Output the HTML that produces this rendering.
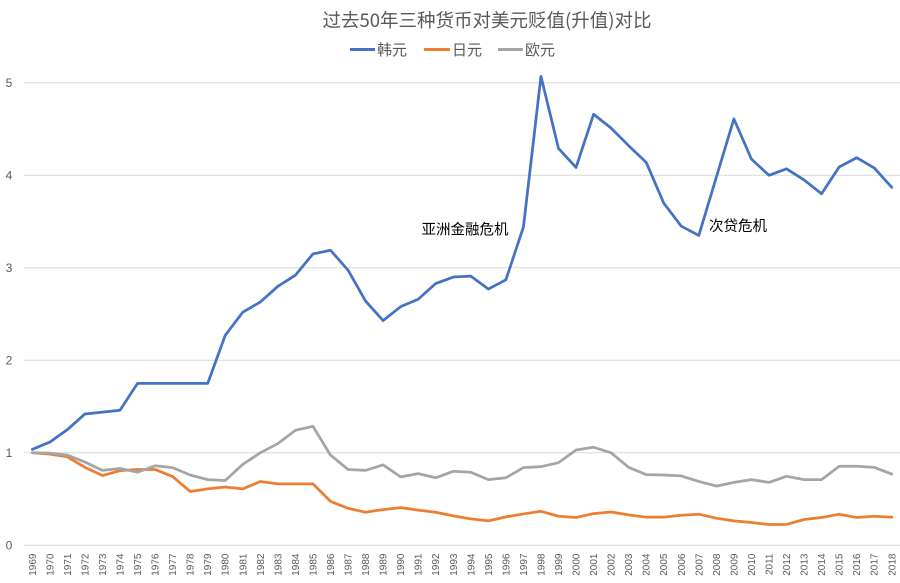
<!DOCTYPE html>
<html><head><meta charset="utf-8"><style>
html,body{margin:0;padding:0;background:#fff;}
svg{display:block;}
text{font-family:"Liberation Sans","Noto Sans CJK SC",sans-serif;}
</style></head><body>
<svg width="900" height="583" viewBox="0 0 900 583" xmlns="http://www.w3.org/2000/svg">
<rect width="900" height="583" fill="#fff"/>
<text x="487" y="27" text-anchor="middle" font-size="18.5" fill="#595959" style="font-family:'Noto Sans CJK SC',sans-serif">过去50年三种货币对美元贬值(升值)对比</text>
<g font-size="15" fill="#595959" style="font-family:'Noto Sans CJK SC',sans-serif">
<line x1="350" y1="49.5" x2="375" y2="49.5" stroke="#4472C4" stroke-width="3"/>
<text x="377" y="55">韩元</text>
<line x1="424" y1="49.5" x2="450" y2="49.5" stroke="#ED7D31" stroke-width="3"/>
<text x="452" y="55">日元</text>
<line x1="498" y1="49.5" x2="523" y2="49.5" stroke="#A5A5A5" stroke-width="3"/>
<text x="525" y="55">欧元</text>
</g>
<g stroke="#d9d9d9" stroke-width="1">
<line x1="24" y1="545.3" x2="900" y2="545.3"/>
<line x1="24" y1="452.8" x2="900" y2="452.8"/>
<line x1="24" y1="360.3" x2="900" y2="360.3"/>
<line x1="24" y1="267.8" x2="900" y2="267.8"/>
<line x1="24" y1="175.3" x2="900" y2="175.3"/>
<line x1="24" y1="82.8" x2="900" y2="82.8"/>
</g>
<g font-size="12" fill="#595959" text-anchor="middle">
<text x="9" y="549.5">0</text>
<text x="9" y="457">1</text>
<text x="9" y="364.5">2</text>
<text x="9" y="272">3</text>
<text x="9" y="179.5">4</text>
<text x="9" y="87">5</text>
</g>
<g transform="translate(32.3,545.3) scale(17.54,-92.5)" fill="none" stroke-width="2.75" stroke-linejoin="round" stroke-linecap="round">
<polyline vector-effect="non-scaling-stroke" stroke="#4472C4" points="0,1.037 1,1.116 2,1.25 3,1.42 4,1.44 5,1.46 6,1.75 7,1.75 8,1.75 9,1.75 10,1.75 11,2.27 12,2.52 13,2.63 14,2.80 15,2.92 16,3.15 17,3.19 18,2.975 19,2.64 20,2.43 21,2.58 22,2.66 23,2.83 24,2.90 25,2.91 26,2.77 27,2.87 28,3.44 29,5.07 30,4.29 31,4.085 32,4.66 33,4.51 34,4.32 35,4.14 36,3.70 37,3.45 38,3.35 39,3.98 40,4.61 41,4.175 42,4.00 43,4.07 44,3.95 45,3.80 46,4.09 47,4.19 48,4.08 49,3.87"/>
<polyline vector-effect="non-scaling-stroke" stroke="#ED7D31" points="0,1.0 1,0.986 2,0.957 3,0.843 4,0.754 5,0.807 6,0.82 7,0.82 8,0.743 9,0.582 10,0.61 11,0.63 12,0.61 13,0.69 14,0.664 15,0.664 16,0.664 17,0.475 18,0.40 19,0.357 20,0.386 21,0.407 22,0.38 23,0.357 24,0.318 25,0.286 26,0.264 27,0.307 28,0.339 29,0.368 30,0.314 31,0.30 32,0.343 33,0.36 34,0.329 35,0.304 36,0.304 37,0.325 38,0.336 39,0.293 40,0.264 41,0.246 42,0.225 43,0.225 44,0.279 45,0.30 46,0.336 47,0.30 48,0.314 49,0.304"/>
<polyline vector-effect="non-scaling-stroke" stroke="#A5A5A5" points="0,1.0 1,0.996 2,0.975 3,0.90 4,0.81 5,0.83 6,0.79 7,0.86 8,0.84 9,0.76 10,0.71 11,0.70 12,0.875 13,1.0 14,1.10 15,1.243 16,1.286 17,0.975 18,0.82 19,0.81 20,0.87 21,0.74 22,0.775 23,0.73 24,0.80 25,0.79 26,0.71 27,0.73 28,0.84 29,0.85 30,0.893 31,1.03 32,1.06 33,1.0 34,0.843 35,0.764 36,0.76 37,0.75 38,0.69 39,0.64 40,0.68 41,0.71 42,0.68 43,0.746 44,0.71 45,0.71 46,0.854 47,0.854 48,0.843 49,0.77"/>
</g>
<g font-size="14.5" fill="#000" style="font-family:'Noto Sans CJK SC',sans-serif">
<text x="421.5" y="234.5">亚洲金融危机</text>
<text x="709" y="231">次贷危机</text>
</g>
<g font-size="10" fill="#595959" text-anchor="end">
<text transform="translate(35.8,553.5) rotate(-90)">1969</text>
<text transform="translate(53.3,553.5) rotate(-90)">1970</text>
<text transform="translate(70.9,553.5) rotate(-90)">1971</text>
<text transform="translate(88.4,553.5) rotate(-90)">1972</text>
<text transform="translate(106.0,553.5) rotate(-90)">1973</text>
<text transform="translate(123.5,553.5) rotate(-90)">1974</text>
<text transform="translate(141.0,553.5) rotate(-90)">1975</text>
<text transform="translate(158.6,553.5) rotate(-90)">1976</text>
<text transform="translate(176.1,553.5) rotate(-90)">1977</text>
<text transform="translate(193.7,553.5) rotate(-90)">1978</text>
<text transform="translate(211.2,553.5) rotate(-90)">1979</text>
<text transform="translate(228.7,553.5) rotate(-90)">1980</text>
<text transform="translate(246.3,553.5) rotate(-90)">1981</text>
<text transform="translate(263.8,553.5) rotate(-90)">1982</text>
<text transform="translate(281.4,553.5) rotate(-90)">1983</text>
<text transform="translate(298.9,553.5) rotate(-90)">1984</text>
<text transform="translate(316.4,553.5) rotate(-90)">1985</text>
<text transform="translate(334.0,553.5) rotate(-90)">1986</text>
<text transform="translate(351.5,553.5) rotate(-90)">1987</text>
<text transform="translate(369.1,553.5) rotate(-90)">1988</text>
<text transform="translate(386.6,553.5) rotate(-90)">1989</text>
<text transform="translate(404.1,553.5) rotate(-90)">1990</text>
<text transform="translate(421.7,553.5) rotate(-90)">1991</text>
<text transform="translate(439.2,553.5) rotate(-90)">1992</text>
<text transform="translate(456.8,553.5) rotate(-90)">1993</text>
<text transform="translate(474.3,553.5) rotate(-90)">1994</text>
<text transform="translate(491.8,553.5) rotate(-90)">1995</text>
<text transform="translate(509.4,553.5) rotate(-90)">1996</text>
<text transform="translate(526.9,553.5) rotate(-90)">1997</text>
<text transform="translate(544.5,553.5) rotate(-90)">1998</text>
<text transform="translate(562.0,553.5) rotate(-90)">1999</text>
<text transform="translate(579.5,553.5) rotate(-90)">2000</text>
<text transform="translate(597.1,553.5) rotate(-90)">2001</text>
<text transform="translate(614.6,553.5) rotate(-90)">2002</text>
<text transform="translate(632.2,553.5) rotate(-90)">2003</text>
<text transform="translate(649.7,553.5) rotate(-90)">2004</text>
<text transform="translate(667.2,553.5) rotate(-90)">2005</text>
<text transform="translate(684.8,553.5) rotate(-90)">2006</text>
<text transform="translate(702.3,553.5) rotate(-90)">2007</text>
<text transform="translate(719.9,553.5) rotate(-90)">2008</text>
<text transform="translate(737.4,553.5) rotate(-90)">2009</text>
<text transform="translate(754.9,553.5) rotate(-90)">2010</text>
<text transform="translate(772.5,553.5) rotate(-90)">2011</text>
<text transform="translate(790.0,553.5) rotate(-90)">2012</text>
<text transform="translate(807.6,553.5) rotate(-90)">2013</text>
<text transform="translate(825.1,553.5) rotate(-90)">2014</text>
<text transform="translate(842.6,553.5) rotate(-90)">2015</text>
<text transform="translate(860.2,553.5) rotate(-90)">2016</text>
<text transform="translate(877.7,553.5) rotate(-90)">2017</text>
<text transform="translate(895.3,553.5) rotate(-90)">2018</text>
</g>
</svg>
</body></html>
